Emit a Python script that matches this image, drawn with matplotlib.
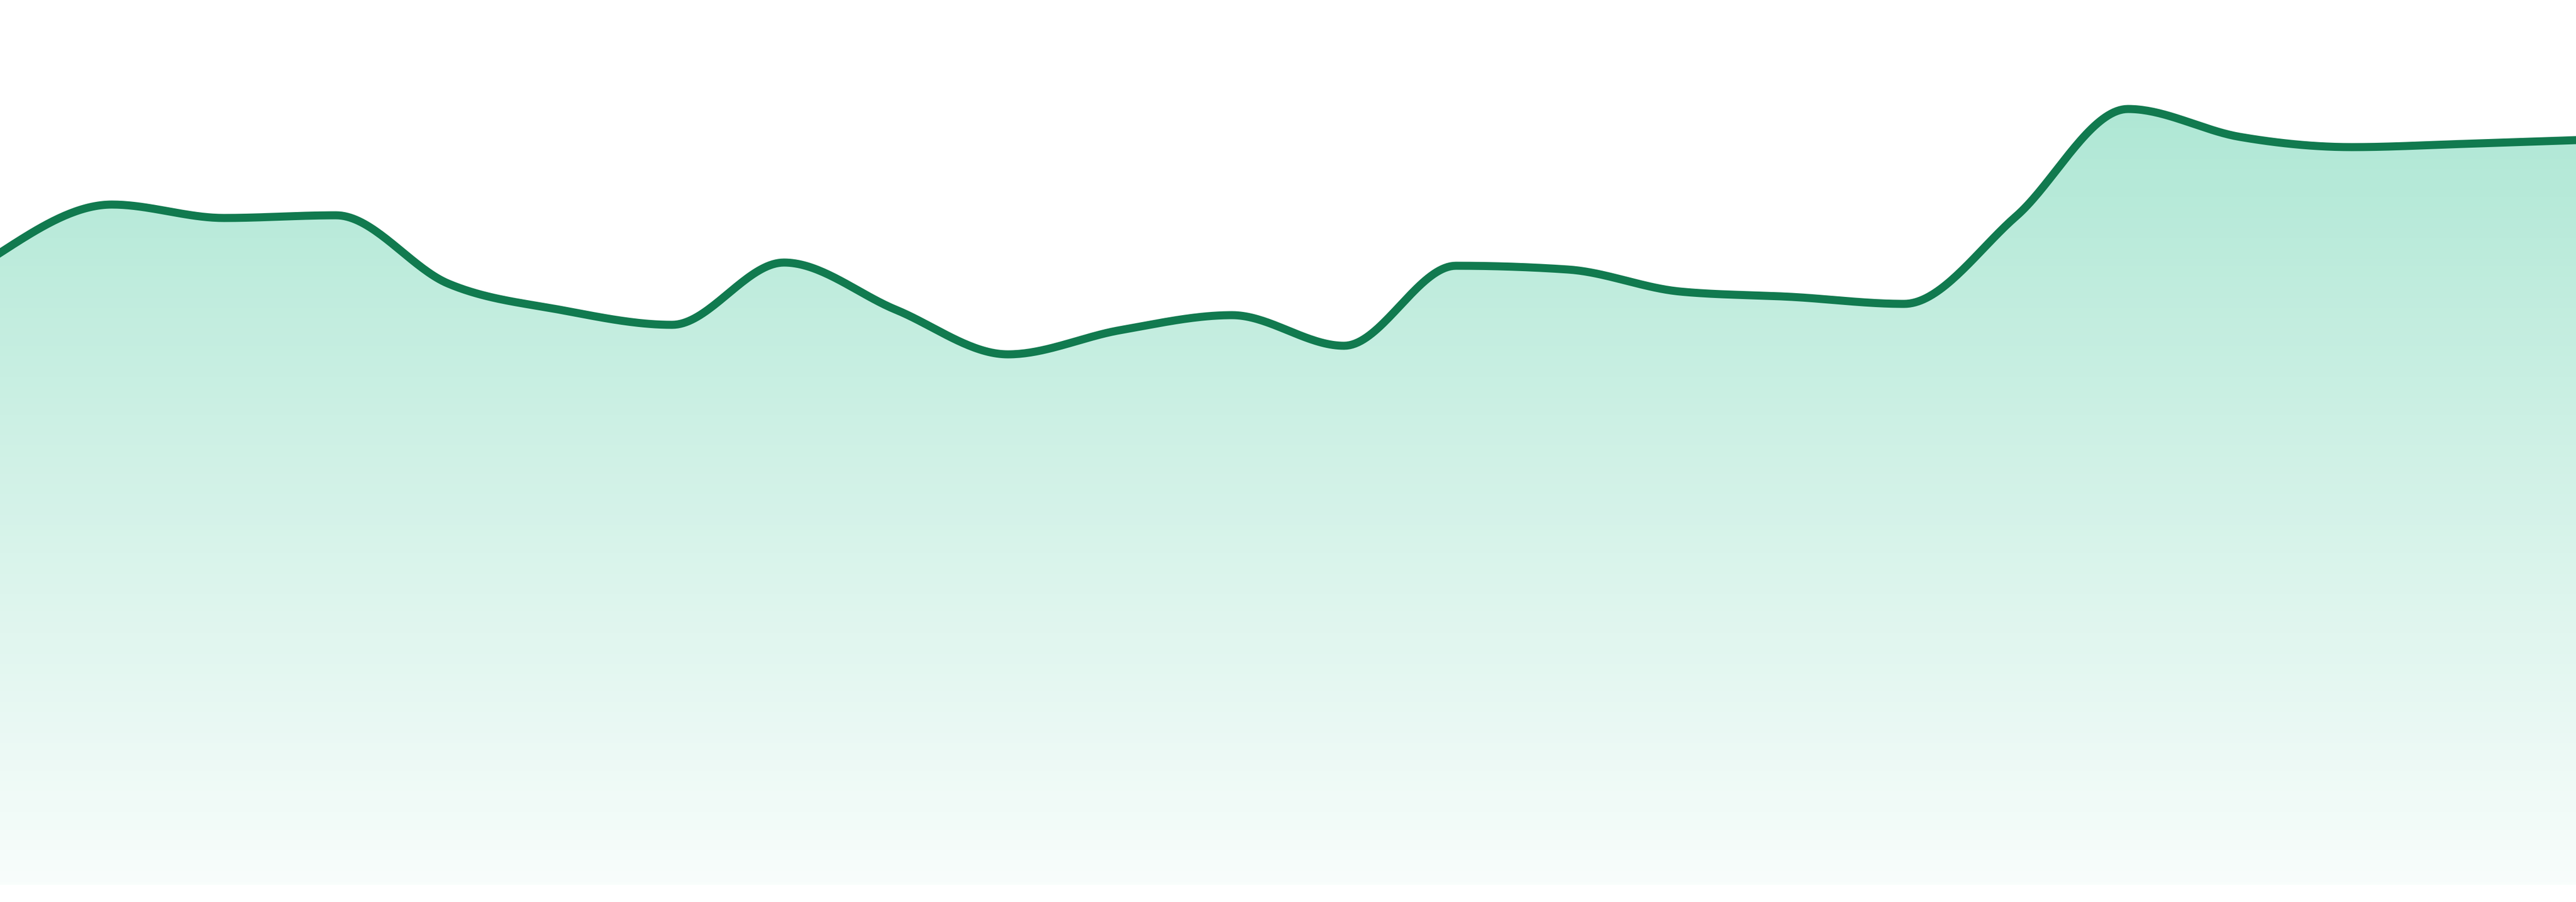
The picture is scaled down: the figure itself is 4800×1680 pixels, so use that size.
import numpy as np
import matplotlib
matplotlib.use('Agg')
from matplotlib import pyplot as plt
from matplotlib.colors import to_rgb

# one value per step
steps = np.arange(24)
values = [117.7, 126.7, 124.2, 124.7, 112.0, 107.1, 104.3, 115.9,
          107.1, 98.8, 103.3, 106.1, 100.4, 115.3, 114.6, 110.5,
          109.5, 108.2, 124.5, 144.5, 139.3, 137.4, 138.0, 138.7]

line_color = '#117a4f'
fill_color = '#10b981'


def monotone_x(x, y, n=40):
    # same idea as d3.curveMonotoneX
    x = np.asarray(x, float)
    y = np.asarray(y, float)
    h = np.diff(x)
    s = np.diff(y) / h
    t = np.zeros(len(x))
    for i in range(1, len(x) - 1):
        p = (s[i - 1] * h[i] + s[i] * h[i - 1]) / (h[i - 1] + h[i])
        t[i] = (np.sign(s[i - 1]) + np.sign(s[i])) * min(abs(s[i - 1]), abs(s[i]), 0.5 * abs(p))
    t[0] = (3 * s[0] - t[1]) / 2
    t[-1] = (3 * s[-1] - t[-2]) / 2
    xs, ys = [], []
    for i in range(len(x) - 1):
        u = np.linspace(0, 1, n, endpoint=False)
        h00 = 2 * u**3 - 3 * u**2 + 1
        h10 = u**3 - 2 * u**2 + u
        h01 = -2 * u**3 + 3 * u**2
        h11 = u**3 - u**2
        xs.append(x[i] + u * h[i])
        ys.append(h00 * y[i] + h10 * h[i] * t[i] + h01 * y[i + 1] + h11 * h[i] * t[i + 1])
    xs.append([x[-1]])
    ys.append([y[-1]])
    return np.concatenate(xs), np.concatenate(ys)


xs, ys = monotone_x(steps, values)

fig = plt.figure(figsize=(16, 5.6), dpi=300)
ax = fig.add_axes([0, 32 / 1680, 1, 1648 / 1680])
ax.set_xlim(steps[0], steps[-1])
ax.set_ylim(0, 164.8)
ax.axis('off')

# vertical gradient clipped by the area under the curve
grad = np.zeros((256, 1, 4))
grad[:, 0, :3] = to_rgb(fill_color)
grad[:, 0, 3] = np.linspace(0.38, 0.03, 256)
poly = ax.fill_between(xs, ys, 0, color='none', lw=0)
img = ax.imshow(grad, aspect='auto', origin='upper',
                extent=[steps[0], steps[-1], 0, 164.8], zorder=1)
img.set_clip_path(poly.get_paths()[0], transform=ax.transData)

ax.plot(xs, ys, color=line_color, lw=3.6, zorder=3, solid_joinstyle='round')

fig.savefig('out.png', dpi=300, facecolor='white')
